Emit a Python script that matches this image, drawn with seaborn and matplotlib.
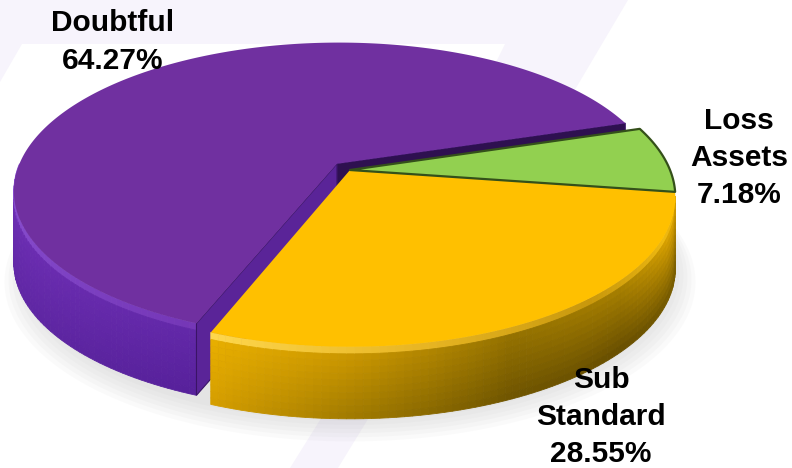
import numpy as np
import matplotlib
matplotlib.use("Agg")
import matplotlib.pyplot as plt
import seaborn as sns
from matplotlib.patches import Polygon
from matplotlib.colors import to_rgb

sns.set_theme(style="white")
plt.rcParams['font.family'] = ['Liberation Sans', 'DejaVu Sans']

# ---------------- data ----------------
categories = ["Doubtful", "Sub Standard", "Loss Assets"]
shares = [64.27, 28.55, 7.18]
label_texts = ["Doubtful\n64.27%", "Sub\nStandard\n28.55%", "Loss\nAssets\n7.18%"]
top_colors = ["#7030A0", "#FFC000", "#92D050"]
explode = [0.06, 0.0, 0.0]

# ---------------- styling / geometry ----------------
CX, CY = 350.0, 170.0         # projected pie apex (pixels)
A, B, P = 320.0, 145.0, 0.18  # horizontal/vertical radius, perspective
DEPTH = 72.0
BEVEL = 7.0
NBANDS = 10

# wall shading: bevel colour, colour just under the bevel, colour at the bottom (by angle)
wall_shading = {
    "Doubtful": dict(
        bevel=[(180, "#8C52D2"), (215, "#8044C6"), (250, "#7436B6")],
        upper=[(180, "#6E30B6"), (215, "#6A2CB0"), (250, "#6228A8")],
        lower=[(180, "#6428AA"), (215, "#5E26A2"), (250, "#56209A")]),
    "Sub Standard": dict(
        bevel=[(248, "#FFD84E"), (280, "#E8B624"), (310, "#C8980C"), (335, "#F0BA10"), (352, "#E0A800")],
        upper=[(248, "#EAB000"), (270, "#CC9800"), (295, "#957200"), (318, "#A88000"), (338, "#E0A600"), (352, "#D49C00")],
        lower=[(248, "#D8A000"), (270, "#A07A00"), (295, "#6E5400"), (318, "#664D00"), (338, "#725800"), (352, "#785C00")]),
    "Loss Assets": dict(
        bevel=[(0, "#4F7A20"), (360, "#4F7A20")],
        upper=[(0, "#4F7A20"), (360, "#4F7A20")],
        lower=[(0, "#4F7A20"), (360, "#4F7A20")]),
}
label_pos = {"Doubtful": (113, 42), "Sub Standard": (601, 417), "Loss Assets": (739, 158)}


def proj(u, v, z=0.0):
    d = 1.0 + P * v
    return CX + A * u / d, CY - B * v / d + z


def stop_color(stops, ang):
    angs = np.array([s[0] for s in stops], float)
    cols = np.array([to_rgb(s[1]) for s in stops])
    return np.array([np.interp(ang, angs, cols[:, k]) for k in range(3)])


fig = plt.figure(figsize=(7.92, 4.68), dpi=100)
ax = fig.add_axes([0, 0, 1, 1])
wedges, _ = ax.pie(shares, explode=explode, startangle=17.4, counterclock=True,
                   radius=1.0, center=(0, 0), colors=top_colors)
geo = []
for w in wedges:
    geo.append((w.theta1, w.theta2, w.center, w.r))
    w.remove()

ax.set_xlim(0, 792)
ax.set_ylim(468, 0)
ax.set_aspect('auto')
ax.axis('off')
fig.patch.set_facecolor("white")

# faint background watermark shapes
wm = "#F7F4FC"
for poly in [
    [(0, 0), (628, 0), (602, 44), (0, 44)],
    [(0, 44), (22, 44), (0, 82)],
    [(505, 44), (602, 44), (560, 115), (470, 115)],
    [(290, 468), (338, 468), (392, 380), (345, 380)],
]:
    ax.add_patch(Polygon(poly, closed=True, facecolor=wm, edgecolor="none", zorder=0))

# soft shadow under the pie
tt = np.linspace(0, 2 * np.pi, 240)
for k in range(6):
    sc = 1.0 + 0.012 * k
    xs, ys = proj(sc * np.cos(tt), sc * np.sin(tt), DEPTH + 2 + 1.5 * k)
    ax.add_patch(Polygon(np.column_stack([xs, ys]), closed=True, facecolor="#808080",
                         edgecolor="none", alpha=0.035, zorder=1))


def rim(c, r, a, z):
    u = c[0] + r * np.cos(np.radians(a))
    v = c[1] + r * np.sin(np.radians(a))
    return proj(u, v, z)


def draw_wall(name, t1, t2, c, r, z0):
    lo, hi = max(t1, 180.0), min(t2, 350.0)
    if hi <= lo:
        return
    sh = wall_shading[name]
    ts = np.linspace(lo, hi, max(int((hi - lo) / 1.2), 2))
    zs = np.linspace(BEVEL, DEPTH, NBANDS + 1)
    for a0, a1 in zip(ts[:-1], ts[1:]):
        am = 0.5 * (a0 + a1)
        # bevel
        col = stop_color(sh["bevel"], am)
        quad = [rim(c, r, a0, 0), rim(c, r, a1, 0), rim(c, r, a1, BEVEL), rim(c, r, a0, BEVEL)]
        ax.add_patch(Polygon(quad, closed=True, facecolor=col, edgecolor=col, linewidth=0.6, zorder=z0))
        cu, cl = stop_color(sh["upper"], am), stop_color(sh["lower"], am)
        for j, (za, zb) in enumerate(zip(zs[:-1], zs[1:])):
            f = (j + 0.5) / NBANDS
            col = np.clip(cu * (1 - f) + cl * f, 0, 1)
            quad = [rim(c, r, a0, za), rim(c, r, a1, za), rim(c, r, a1, zb), rim(c, r, a0, zb)]
            ax.add_patch(Polygon(quad, closed=True, facecolor=col, edgecolor=col,
                                 linewidth=0.6, zorder=z0))


def radial_face(t, c, r, color, z0):
    pts = [proj(c[0], c[1], 0), rim(c, r, t, 0), rim(c, r, t, DEPTH), proj(c[0], c[1], DEPTH)]
    ax.add_patch(Polygon(pts, closed=True, facecolor=color, edgecolor="#3A1466",
                         linewidth=0.8, zorder=z0))


def top_face(t1, t2, c, r, color, z0, edge="none", lw=0.0):
    ts = np.radians(np.linspace(t1, t2, max(int(t2 - t1), 2) * 2))
    u = np.concatenate([[c[0]], c[0] + r * np.cos(ts)])
    v = np.concatenate([[c[1]], c[1] + r * np.sin(ts)])
    xs, ys = proj(u, v, 0)
    ax.add_patch(Polygon(np.column_stack([xs, ys]), closed=True, facecolor=color,
                         edgecolor=edge, linewidth=lw, zorder=z0, joinstyle="round"))


# exploded Doubtful slice first (it sits behind)
t1, t2, c, r = geo[0]
draw_wall(categories[0], t1, t2, c, r, 2)
radial_face(t1, c, r, "#2E1050", 2)
radial_face(t2, c, r, "#5A2498", 2)
top_face(t1, t2, c, r, top_colors[0], 3)

# the other slices
for i in (1, 2):
    t1, t2, c, r = geo[i]
    draw_wall(categories[i], t1, t2, c, r, 4)
for i in (1, 2):
    t1, t2, c, r = geo[i]
    if categories[i] == "Loss Assets":
        top_face(t1, t2, c, r, top_colors[i], 5, edge="#34501A", lw=1.6)
    else:
        top_face(t1, t2, c, r, top_colors[i], 5)

# labels
for name, txt in zip(categories, label_texts):
    x, y = label_pos[name]
    ax.text(x, y, txt, ha="center", va="center", multialignment="center",
            fontsize=21.5, fontweight="bold", color="black", linespacing=1.42, zorder=10)

fig.savefig("out.png", dpi=100, facecolor="white")
